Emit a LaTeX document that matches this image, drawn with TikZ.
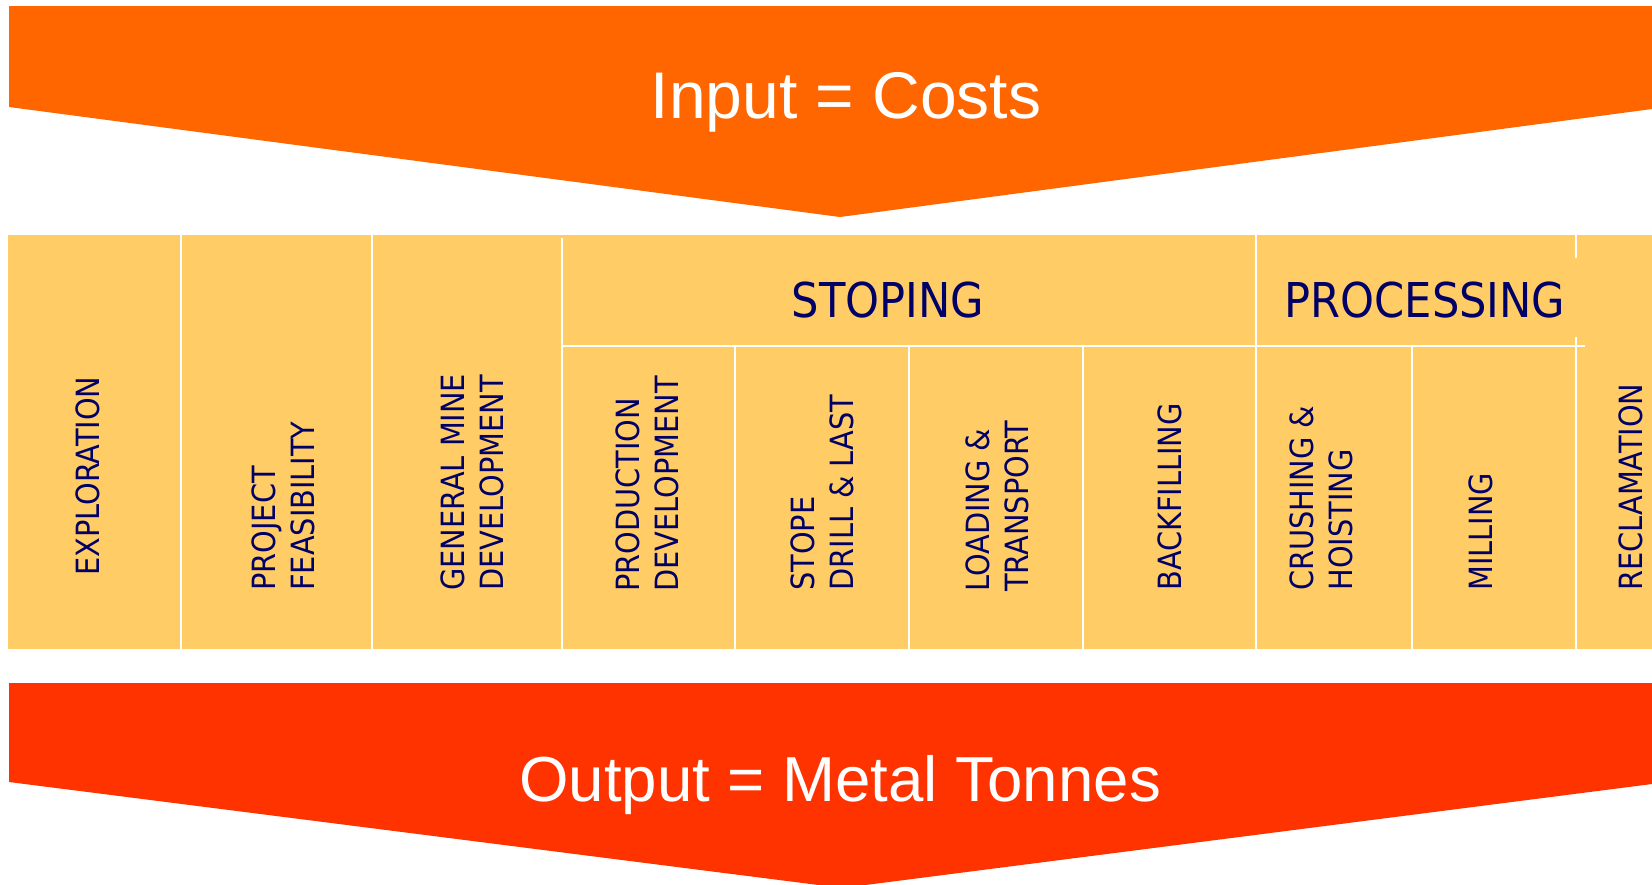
\documentclass[tikz,border=0pt]{standalone}
\usepackage{fontspec}
\setmainfont{Liberation Sans}
\newfontfamily\labelfont{DejaVu Sans Condensed}
\usepackage{tikz}
\definecolor{costorange}{HTML}{FF6600}
\definecolor{outputred}{HTML}{FF3300}
\definecolor{stagefill}{HTML}{FFCC66}
\definecolor{stagetext}{HTML}{000066}

\begin{document}
\begin{tikzpicture}[
    x=0.5pt,y=-0.5pt,divider/.style={white, line width=1.25pt},
    stage/.style={rotate=90, anchor=west, inner sep=0pt, align=left, text=stagetext,
      font=\labelfont\fontsize{16}{19.5}\selectfont},
    group/.style={anchor=base, inner sep=0pt, text=stagetext,
      font=\labelfont\fontsize{24}{28}\selectfont},
    banner/.style={anchor=base, inner sep=0pt, text=white}
    ]
    \useasboundingbox (0, 0) rectangle (1652, 884);
    \fill[costorange] (9, 6) -- (1652, 6) -- (1652, 109) -- (840, 217) -- (9, 107) -- cycle;
    \fill[outputred] (9, 683) -- (1652, 683) -- (1652, 784) -- (842, 888) -- (9, 782) -- cycle;
    \fill[stagefill] (8, 235) rectangle (1652, 649);
    \draw[divider] (181, 235) -- (181, 649);
    \draw[divider] (372, 235) -- (372, 649);
    \draw[divider] (562, 238) -- (562, 649);
    \draw[divider] (562, 346) -- (1585, 346);
    \draw[divider] (735, 346) -- (735, 649);
    \draw[divider] (909, 346) -- (909, 649);
    \draw[divider] (1083, 346) -- (1083, 649);
    \draw[divider] (1256, 235) -- (1256, 649);
    \draw[divider] (1412, 346) -- (1412, 649);
    \draw[divider] (1576, 235) -- (1576, 258);
    \draw[divider] (1576, 337) -- (1576, 649);
    \node[banner, font=\fontsize{33}{40}\selectfont] (input) at (846, 118) {Input = Costs};
    \node[banner, font=\fontsize{31.8}{38}\selectfont] (output) at (840, 801) {Output = Metal Tonnes};
    \node[group] (stoping) at (888, 317) {STOPING};
    \node[group] (processing) at (1425, 317) {PROCESSING};
    \node[stage] (exploration) at (88, 576) {EXPLORATION};
    \node[stage] (feasibility) at (283, 591) {PROJECT\\FEASIBILITY};
    \node[stage] (minedev) at (472, 591) {GENERAL MINE\\DEVELOPMENT};
    \node[stage] (proddev) at (647, 592) {PRODUCTION\\DEVELOPMENT};
    \node[stage] (drill) at (822, 591) {STOPE\\DRILL \& LAST};
    \node[stage] (loading) at (997, 592) {LOADING \&\\TRANSPORT};
    \node[stage] (backfill) at (1170, 591) {BACKFILLING};
    \node[stage] (crushing) at (1321, 591) {CRUSHING \&\\HOISTING};
    \node[stage] (milling) at (1481, 591) {MILLING};
    \node[stage] (reclamation) at (1631, 591) {RECLAMATION};
  \end{tikzpicture}
\end{document}
